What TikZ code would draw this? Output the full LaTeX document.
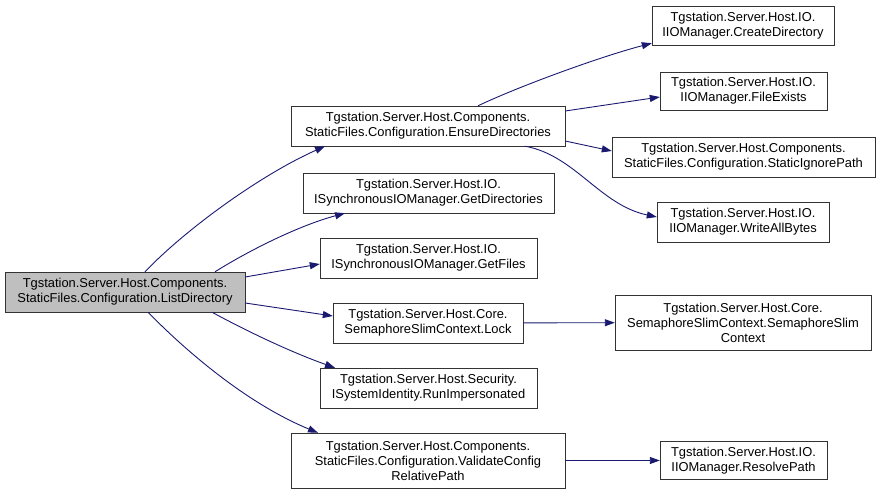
\documentclass[tikz,border=0pt]{standalone}
\usepackage{fontspec}
\setmainfont{Liberation Sans}
\usetikzlibrary{arrows.meta}
\definecolor{edgeblue}{HTML}{191970}
\definecolor{rootgray}{HTML}{BFBFBF}

\begin{document}
\begin{tikzpicture}[%
    x=1pt, y=-1pt,
    >={Triangle[length=10pt,width=7pt]},
    fnbox/.style={draw=black!80, fill=white, align=center, inner sep=0pt,
      font=\fontsize{12.9}{15}\selectfont},
    rootbox/.style={fnbox, fill=rootgray},
    call/.style={->, draw=edgeblue, line width=0.9pt}
  ]
    \useasboundingbox (0,0) rectangle (880,495);

    % caller
    \node[rootbox, minimum width=240pt, minimum height=40pt] (listdir) at (125,292)
      {Tgstation.Server.Host.Components.\\StaticFiles.Configuration.ListDirectory};

    % first level
    \node[fnbox, minimum width=274pt, minimum height=40pt] (ensuredirs) at (428,126)
      {Tgstation.Server.Host.Components.\\StaticFiles.Configuration.EnsureDirectories};
    \node[fnbox, minimum width=251pt, minimum height=40pt] (getdirs) at (428.5,193)
      {Tgstation.Server.Host.IO.\\ISynchronousIOManager.GetDirectories};
    \node[fnbox, minimum width=217pt, minimum height=40pt] (getfiles) at (428.5,258)
      {Tgstation.Server.Host.IO.\\ISynchronousIOManager.GetFiles};
    \node[fnbox, minimum width=190pt, minimum height=40pt] (lock) at (428,323)
      {Tgstation.Server.Host.Core.\\SemaphoreSlimContext.Lock};
    \node[fnbox, minimum width=217pt, minimum height=40pt] (runimp) at (428.5,388)
      {Tgstation.Server.Host.Security.\\ISystemIdentity.RunImpersonated};
    \node[fnbox, minimum width=274pt, minimum height=55pt] (validate) at (428,460.5)
      {Tgstation.Server.Host.Components.\\StaticFiles.Configuration.ValidateConfig\\RelativePath};

    % second level
    \node[fnbox, minimum width=182pt, minimum height=39pt] (createdir) at (743,25.5)
      {Tgstation.Server.Host.IO.\\IIOManager.CreateDirectory};
    \node[fnbox, minimum width=167pt, minimum height=38pt] (fileexists) at (743.5,91)
      {Tgstation.Server.Host.IO.\\IIOManager.FileExists};
    \node[fnbox, minimum width=263pt, minimum height=40pt] (ignorepath) at (743.5,157)
      {Tgstation.Server.Host.Components.\\StaticFiles.Configuration.StaticIgnorePath};
    \node[fnbox, minimum width=172pt, minimum height=40pt] (writebytes) at (743,222)
      {Tgstation.Server.Host.IO.\\IIOManager.WriteAllBytes};
    \node[fnbox, minimum width=256pt, minimum height=55pt] (semctx) at (743,322.5)
      {Tgstation.Server.Host.Core.\\SemaphoreSlimContext.SemaphoreSlim\\Context};
    \node[fnbox, minimum width=167pt, minimum height=38pt] (resolve) at (743.5,460.5)
      {Tgstation.Server.Host.IO.\\IIOManager.ResolvePath};

    % calls from ListDirectory
    \draw[call] ([xshift=20pt]listdir.north) .. controls +(40,-42) and +(-65,29) .. ([xshift=-103pt]ensuredirs.south);
    \draw[call] ([xshift=90pt]listdir.north) .. controls +(35,-22) and +(-45,12) .. ([xshift=-83.5pt]getdirs.south);
    \draw[call] ([yshift=15pt]listdir.east) -- ([yshift=-6pt]getfiles.west);
    \draw[call] ([yshift=-11pt]listdir.east) -- ([yshift=7pt]lock.west);
    \draw[call] ([xshift=87pt]listdir.south) .. controls +(33,18) and +(-45,-16) .. ([xshift=-93.5pt]runimp.north);
    \draw[call] ([xshift=23pt]listdir.south) .. controls +(42,43) and +(-68,-28) .. ([xshift=-110pt]validate.north);

    % calls from EnsureDirectories
    \draw[call] ([xshift=50pt]ensuredirs.north) .. controls +(42,-20) and +(-50,13) .. ([yshift=2pt]createdir.south west);
    \draw[call] ([yshift=15pt]ensuredirs.east) -- ([yshift=-6pt]fileexists.west);
    \draw[call] ([yshift=-15pt]ensuredirs.east) -- ([yshift=6pt]ignorepath.west);
    \draw[call] ([xshift=97pt]ensuredirs.south) .. controls +(50,9) and +(-57,-12) .. ([yshift=5pt]writebytes.west);

    % remaining calls
    \draw[call] (lock) -- (semctx);
    \draw[call] (validate) -- (resolve);
\end{tikzpicture}
\end{document}
